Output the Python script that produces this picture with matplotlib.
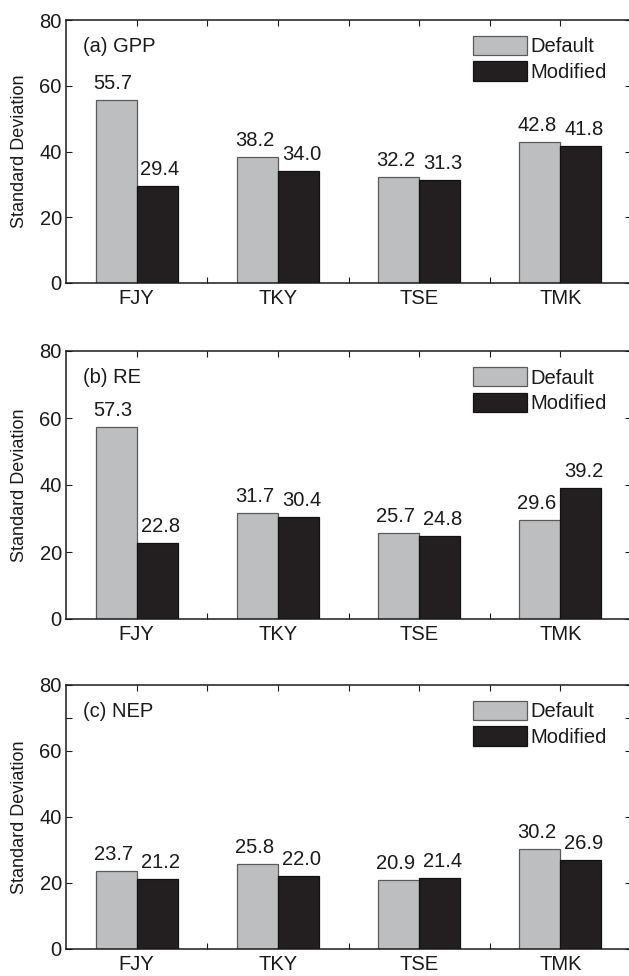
import matplotlib
matplotlib.use("Agg")
import matplotlib.pyplot as plt
from matplotlib.ticker import FixedLocator
import numpy as np

plt.rcParams['font.family'] = ['Liberation Sans', 'DejaVu Sans']

sites = ["FJY", "TKY", "TSE", "TMK"]
panel_titles = ["(a) GPP", "(b) RE", "(c) NEP"]
default_vals = {
    "(a) GPP": [55.7, 38.2, 32.2, 42.8],
    "(b) RE": [57.3, 31.7, 25.7, 29.6],
    "(c) NEP": [23.7, 25.8, 20.9, 30.2],
}
modified_vals = {
    "(a) GPP": [29.4, 34.0, 31.3, 41.8],
    "(b) RE": [22.8, 30.4, 24.8, 39.2],
    "(c) NEP": [21.2, 22.0, 21.4, 26.9],
}
series_names = ["Default", "Modified"]
yticks = [0, 20, 40, 60, 80]

W, H = 629, 976
fig = plt.figure(figsize=(W / 100, H / 100), dpi=100)

# pixel boxes (top, bottom) for each panel
boxes = [(20, 283), (351, 619), (685, 949)]
left_px, width_px = 66, 565

gray = "#bdbebf"
dark = "#231f20"
txt = "#1a1a1a"
fs = 14.5

for title, (top, bot) in zip(panel_titles, boxes):
    ax = fig.add_axes([left_px / W, 1 - bot / H, width_px / W, (bot - top) / H])
    x = np.arange(1, len(sites) + 1)
    bw = 0.29
    b1 = ax.bar(x - bw / 2, default_vals[title], width=bw, color=gray,
                edgecolor="#5a5a5a", linewidth=0.9, label=series_names[0], zorder=2)
    b2 = ax.bar(x + bw / 2, modified_vals[title], width=bw, color=dark,
                edgecolor="#111111", linewidth=0.9, label=series_names[1], zorder=2)
    for bars, vals, dx in ((b1, default_vals[title], -3), (b2, modified_vals[title], 3)):
        for rect, v in zip(bars, vals):
            ax.annotate(f"{v:.1f}", (rect.get_x() + rect.get_width() / 2, v),
                        xytext=(dx, 7), textcoords="offset pixels",
                        ha="center", va="bottom", fontsize=fs, color=txt)
    ax.set_xlim(0.5, 4.5)
    ax.set_ylim(0, 80)
    ax.set_xticks(x)
    ax.set_xticklabels(sites)
    ax.xaxis.set_minor_locator(FixedLocator([1.5, 2.5, 3.5]))
    ax.set_yticks(yticks)
    if title.startswith("(c)"):
        ax.yaxis.set_minor_locator(FixedLocator([70]))
    ax.tick_params(which="both", direction="in", top=True, right=True,
                   length=4, width=0.8, labelsize=fs, colors=txt)
    ax.tick_params(axis="x", pad=4)
    ax.tick_params(axis="y", pad=3)
    for s in ax.spines.values():
        s.set_linewidth(1.1)
        s.set_color(txt)
    ax.set_ylabel("Standard Deviation", fontsize=13, color=txt, va="center")
    ax.yaxis.set_label_coords(-0.083, 0.5)
    ax.text(0.03, 0.9, title, transform=ax.transAxes, fontsize=fs,
            ha="left", va="center", color=txt)
    leg = ax.legend(loc="upper left", bbox_to_anchor=(0.72, 0.94), frameon=False,
                    fontsize=fs, handlelength=2.7, handleheight=1.1,
                    handletextpad=0.15, labelspacing=0.25, borderpad=0, borderaxespad=0)
    for t in leg.get_texts():
        t.set_color(txt)

fig.savefig("out.png", dpi=100)
